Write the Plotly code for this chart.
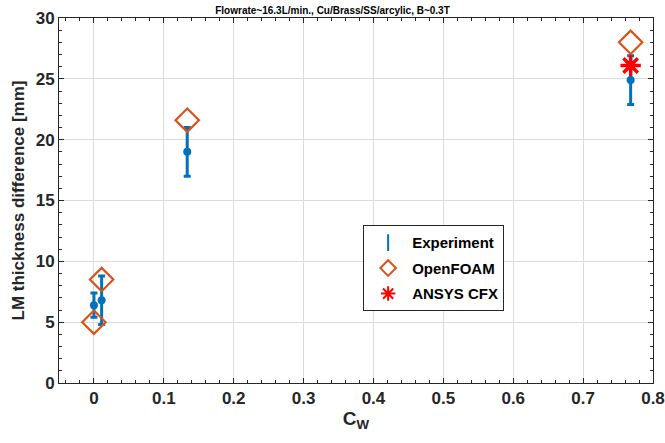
import plotly.graph_objects as go

# Data
exp_cw = [0.0, 0.011, 0.1335, 0.768]
exp_val = [6.4, 6.8, 19.0, 24.9]
exp_err = [1.0, 2.0, 2.0, 2.0]

foam_cw = [0.0, 0.011, 0.1335, 0.768]
foam_val = [5.0, 8.5, 21.6, 28.0]

cfx_cw = [0.768]
cfx_val = [26.1]

title = "Flowrate~16.3L/min., Cu/Brass/SS/arcylic, B~0.3T"
BLUE = "#0072BD"
ORANGE = "#D95319"
RED = "#FF0000"
FONT = "Liberation Sans, Arial, sans-serif"

fig = go.Figure()

fig.add_trace(go.Scatter(
    x=exp_cw, y=exp_val, mode="markers", name="Experiment", showlegend=False,
    legendgroup="exp",
    marker=dict(symbol="circle", size=8, color=BLUE),
    error_y=dict(type="data", array=exp_err, color=BLUE, thickness=3, width=3.5),
))
fig.add_trace(go.Scatter(
    x=[None], y=[None], mode="markers", name="Experiment", legendgroup="exp",
    marker=dict(symbol="line-ns-open", size=14, color=BLUE, line=dict(width=3, color=BLUE)),
))
fig.add_trace(go.Scatter(
    x=foam_cw, y=foam_val, mode="markers", name="OpenFOAM", legendgroup="foam",
    marker=dict(symbol="diamond-open", size=18, color=ORANGE, line=dict(width=2.2, color=ORANGE)),
))
fig.add_trace(go.Scatter(
    x=cfx_cw, y=cfx_val, mode="markers", name="ANSYS CFX", legendgroup="cfx",
    marker=dict(symbol="asterisk-open", size=17, color=RED, line=dict(width=3.5, color=RED)),
))

axis_common = dict(
    showgrid=True, gridcolor="#DCDCDC", gridwidth=1,
    showline=True, linecolor="#262626", linewidth=1, mirror="ticks",
    ticks="inside", ticklen=5, tickcolor="#262626",
    zeroline=False, automargin=False,
    tickfont=dict(family=FONT, size=17, color="#262626", weight="bold"),
)

fig.update_xaxes(
    range=[-0.05, 0.8], dtick=0.1, tick0=0,
    minor=dict(dtick=0.02, ticks="inside", ticklen=3, tickcolor="#262626", showgrid=False),
    title=dict(text="C<sub>W</sub>", font=dict(family=FONT, size=19, color="#262626", weight="bold"), standoff=2),
    **axis_common,
)
fig.update_yaxes(
    range=[0, 30], dtick=5, tick0=0,
    minor=dict(dtick=1, ticks="inside", ticklen=3, tickcolor="#262626", showgrid=False),
    title=dict(text="LM thickness difference [mm]", font=dict(family=FONT, size=17, color="#262626", weight="bold"), standoff=6),
    **axis_common,
)

fig.update_layout(
    width=665, height=443,
    margin=dict(l=59, r=12, t=18, b=60),
    paper_bgcolor="white", plot_bgcolor="white",
    title=dict(text=title, x=0.5, xanchor="center", y=0.985, yanchor="top",
               font=dict(family=FONT, size=10, color="black", weight="bold")),
    legend=dict(
        x=0.512, y=0.432, xanchor="left", yanchor="top",
        bgcolor="white", bordercolor="#262626", borderwidth=1,
        font=dict(family=FONT, size=15, color="black", weight="bold"),
        itemsizing="constant", tracegroupgap=3, itemwidth=38,
    ),
    showlegend=True,
)

fig.write_html("out.html", config={"displayModeBar": False},
               post_script="document.body.style.margin='0';document.body.style.overflow='hidden';")
